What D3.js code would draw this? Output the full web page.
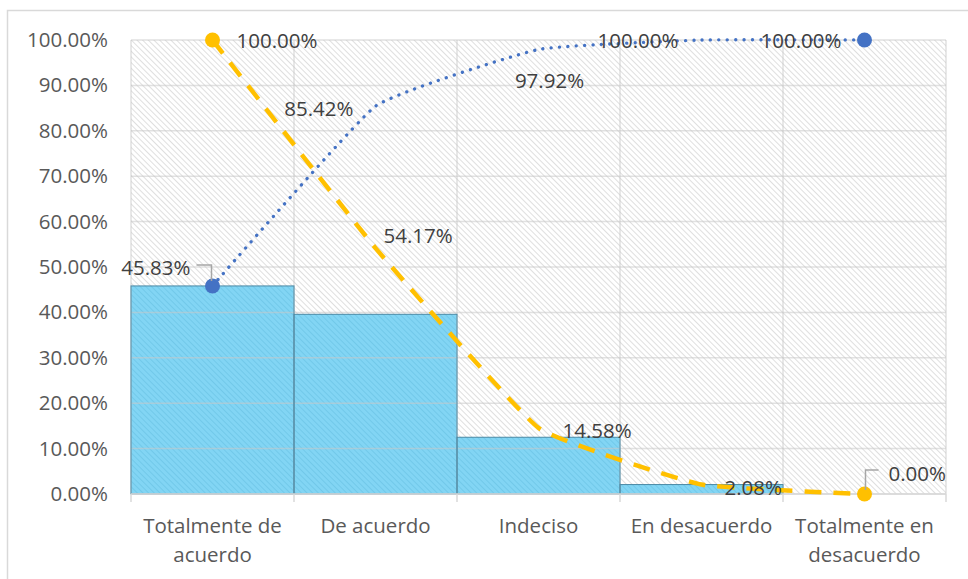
<!DOCTYPE html>
<html>
<head>
<meta charset="utf-8">
<script src="https://d3js.org/d3.v7.min.js"></script>
<style>
  body { margin: 0; background: #fff; }
  text { font-family: "Open Sans", sans-serif; }
</style>
</head>
<body>
<script>
// categorias y valores (porcentajes)
var categories = ["Totalmente de acuerdo", "De acuerdo", "Indeciso", "En desacuerdo", "Totalmente en desacuerdo"];
var percent = [45.83, 39.58, 12.50, 2.08, 0.00];
var cumulative = [45.83, 85.42, 97.92, 100.00, 100.00];
var remaining = [100.00, 54.17, 14.58, 2.08, 0.00];
var yTicks = [0, 10, 20, 30, 40, 50, 60, 70, 80, 90, 100];

var w = 968, h = 579;
var mL = 131, mR = 946, mT = 40, mB = 494;
var fs = 20.5;

var svg = d3.select("body").append("svg").attr("width", w).attr("height", h);

// patrones de rayas diagonales
var defs = svg.append("defs");
function hatch(id, color, sw) {
  var pat = defs.append("pattern").attr("id", id)
      .attr("patternUnits", "userSpaceOnUse").attr("width", 4).attr("height", 4)
      .attr("patternTransform", "rotate(-45)");
  pat.append("line").attr("x1", 0).attr("y1", 0).attr("x2", 0).attr("y2", 4)
      .attr("stroke", color).attr("stroke-width", sw);
}
hatch("hatch", "#dadada", 1.7);
hatch("hatchBar", "#6cc4e6", 1.5);

// borde exterior
svg.append("rect").attr("x", 7.5).attr("y", 10.5).attr("width", 990).attr("height", 600)
    .attr("fill", "#fff").attr("stroke", "#d9d9d9").attr("stroke-width", 1.5);

var x = d3.scaleBand().domain(categories).range([mL, mR]).padding(0);
var y = d3.scaleLinear().domain([0, 100]).range([mB, mT]);

// fondo del area de trazado
svg.append("rect").attr("x", mL).attr("y", mT).attr("width", mR - mL).attr("height", mB - mT)
    .attr("fill", "url(#hatch)");

// barras (relleno)
var bars = svg.append("g");
bars.selectAll("rect.fill").data(percent).enter().append("rect")
    .attr("x", function(d, i){ return x(categories[i]); })
    .attr("y", function(d){ return y(d); })
    .attr("width", x.bandwidth())
    .attr("height", function(d){ return y(0) - y(d); })
    .attr("fill", "#82d5f4");
bars.selectAll("rect.pat").data(percent).enter().append("rect")
    .attr("x", function(d, i){ return x(categories[i]); })
    .attr("y", function(d){ return y(d); })
    .attr("width", x.bandwidth())
    .attr("height", function(d){ return y(0) - y(d); })
    .attr("fill", "url(#hatchBar)");

// lineas de cuadricula
var grid = svg.append("g");
grid.selectAll("line.h").data(yTicks).enter().append("line")
    .attr("x1", mL).attr("x2", mR)
    .attr("y1", function(d){ return y(d); }).attr("y2", function(d){ return y(d); })
    .attr("stroke", "#c8c8c8").attr("stroke-width", 1.5).attr("stroke-opacity", 0.55);
var bounds = categories.map(function(c){ return x(c); }).concat([x.range()[1]]);
grid.selectAll("line.v").data(bounds).enter().append("line")
    .attr("x1", function(d){ return d; }).attr("x2", function(d){ return d; })
    .attr("y1", mT).attr("y2", mB)
    .attr("stroke", "#c8c8c8").attr("stroke-width", 1.5).attr("stroke-opacity", 0.55);

// barras (borde)
svg.append("g").selectAll("rect").data(percent).enter().append("rect")
    .attr("x", function(d, i){ return x(categories[i]); })
    .attr("y", function(d){ return y(d); })
    .attr("width", x.bandwidth())
    .attr("height", function(d){ return y(0) - y(d); })
    .attr("fill", "none").attr("stroke", "#4a8aa6").attr("stroke-width", 1);

// eje x
svg.append("line").attr("x1", mL).attr("x2", mR).attr("y1", mB).attr("y2", mB)
    .attr("stroke", "#d9d9d9").attr("stroke-width", 1.5);
svg.append("g").selectAll("line").data(bounds).enter().append("line")
    .attr("x1", function(d){ return d; }).attr("x2", function(d){ return d; })
    .attr("y1", mB).attr("y2", mB + 8)
    .attr("stroke", "#d9d9d9").attr("stroke-width", 1.5);

var xAxis = d3.axisBottom(x).tickSize(0).tickPadding(24);
var gx = svg.append("g").attr("transform", "translate(0," + mB + ")").call(xAxis);
gx.select(".domain").remove();
gx.selectAll("text").attr("font-size", fs).attr("fill", "#595959")
    .style("font-family", "'Open Sans', sans-serif").call(wrap, 155);

var yAxis = d3.axisLeft(y).tickValues(yTicks).tickSize(0).tickPadding(23)
    .tickFormat(function(d){ return d.toFixed(2) + "%"; });
var gy = svg.append("g").attr("transform", "translate(" + mL + ",0)").call(yAxis);
gy.select(".domain").remove();
gy.selectAll("text").attr("font-size", fs).attr("fill", "#595959")
    .style("font-family", "'Open Sans', sans-serif");

function wrap(texts, width) {
  texts.each(function() {
    var text = d3.select(this);
    var words = text.text().split(/\s+/);
    var yy = text.attr("y"), dy = parseFloat(text.attr("dy"));
    text.text(null);
    var lines = [[]], tspan = text.append("tspan").attr("x", 0).attr("y", yy).attr("dy", dy + "em");
    words.forEach(function(word) {
      var cur = lines[lines.length - 1];
      cur.push(word);
      tspan.text(cur.join(" "));
      if (tspan.node().getComputedTextLength() > width && cur.length > 1) {
        cur.pop();
        tspan.text(cur.join(" "));
        lines.push([word]);
        tspan = text.append("tspan").attr("x", 0).attr("y", yy)
            .attr("dy", (dy + (lines.length - 1) * 1.45) + "em").text(word);
      }
    });
  });
}

// lineas
function px(i){ return x(categories[i]) + x.bandwidth() / 2; }
var line = d3.line()
    .x(function(d, i){ return px(i); })
    .y(function(d){ return y(d); })
    .curve(d3.curveCardinal.tension(0.65));

svg.append("path").attr("d", line(remaining)).attr("fill", "none")
    .attr("stroke", "#ffc000").attr("stroke-width", 4.5).attr("stroke-dasharray", "17,12");
svg.append("path").attr("d", line(cumulative)).attr("fill", "none")
    .attr("stroke", "#4472c4").attr("stroke-width", 3.3).attr("stroke-linecap", "round")
    .attr("stroke-dasharray", "0.1,8.3");

var last = categories.length - 1;

// marcadores (primero y ultimo)
[0, last].forEach(function(i){
  svg.append("circle").attr("cx", px(i)).attr("cy", y(cumulative[i])).attr("r", 7.5).attr("fill", "#4472c4");
  svg.append("circle").attr("cx", px(i)).attr("cy", y(remaining[i])).attr("r", 7.5).attr("fill", "#ffc000");
});

// etiquetas de datos
var fmt = function(v){ return v.toFixed(2) + "%"; };
var blueOff = [[-22, -19, "end"], [-22, 2, "end"], [11, 31, "middle"], [-23, 0, "end"], [-23, 0, "end"]];
var orangeOff = [[24, 0, "start"], [8, -13, "start"], [24, 2, "start"], [23, 2, "start"], [24, -21, "start"]];
var labels = svg.append("g");
cumulative.forEach(function(v, i){
  labels.append("text").attr("x", px(i) + blueOff[i][0]).attr("y", y(v) + blueOff[i][1])
    .attr("text-anchor", blueOff[i][2]).attr("dominant-baseline", "central")
    .attr("font-size", fs).attr("fill", "#404040").text(fmt(v));
});
remaining.forEach(function(v, i){
  labels.append("text").attr("x", px(i) + orangeOff[i][0]).attr("y", y(v) + orangeOff[i][1])
    .attr("text-anchor", orangeOff[i][2]).attr("dominant-baseline", "central")
    .attr("font-size", fs).attr("fill", "#404040").text(fmt(v));
});

// lineas guia
var p0 = [px(0), y(cumulative[0])];
svg.append("polyline").attr("points", [[p0[0] - 1, p0[1] - 5], [p0[0] - 1, p0[1] - 21], [p0[0] - 16, p0[1] - 21]].join(" "))
    .attr("fill", "none").attr("stroke", "#a6a6a6").attr("stroke-width", 1.5);
var p4 = [px(last), y(remaining[last])];
svg.append("polyline").attr("points", [[p4[0] + 1, p4[1] - 4], [p4[0] + 1, p4[1] - 24], [p4[0] + 14, p4[1] - 24]].join(" "))
    .attr("fill", "none").attr("stroke", "#a6a6a6").attr("stroke-width", 1.5);
</script>
</body>
</html>
